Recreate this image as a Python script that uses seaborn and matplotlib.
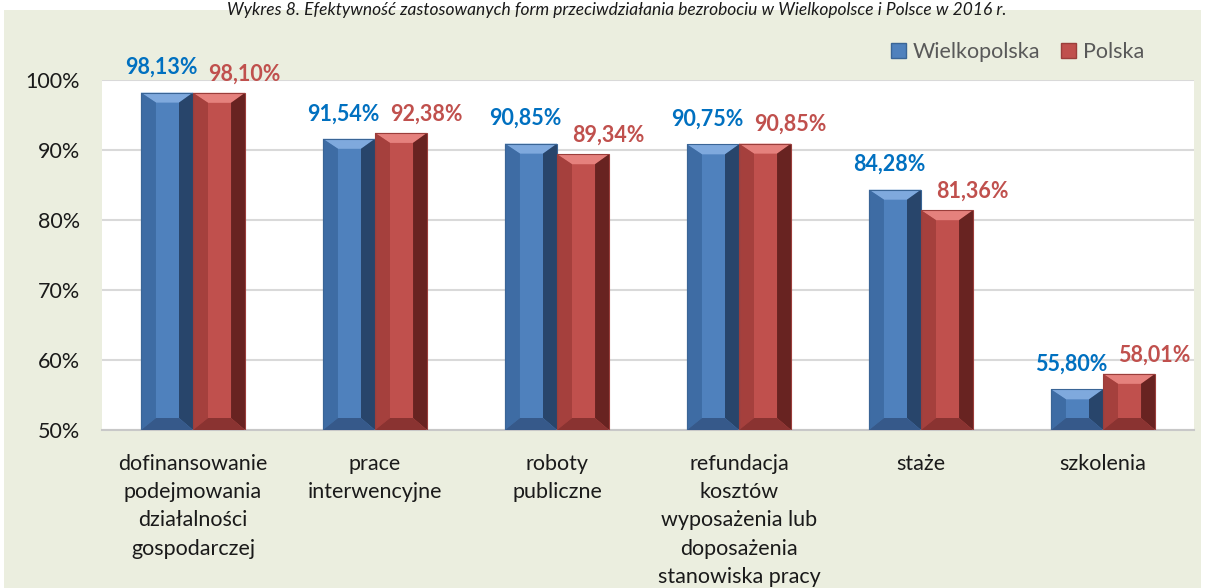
import matplotlib
matplotlib.use("Agg")
import matplotlib.pyplot as plt
from matplotlib.patches import Polygon, Rectangle, Patch
import seaborn as sns
import pandas as pd

# ---- data ----
categories = [
    "dofinansowanie\npodejmowania\ndziałalności\ngospodarczej",
    "prace\ninterwencyjne",
    "roboty\npubliczne",
    "refundacja\nkosztów\nwyposażenia lub\ndoposażenia\nstanowiska pracy",
    "staże",
    "szkolenia",
]
series_names = ["Wielkopolska", "Polska"]
wielkopolska = [98.13, 91.54, 90.85, 90.75, 84.28, 55.80]
polska = [98.10, 92.38, 89.34, 90.85, 81.36, 58.01]
y_ticks = [50, 60, 70, 80, 90, 100]
title = ("Wykres 8. Efektywność zastosowanych form przeciwdziałania bezrobociu "
         "w Wielkopolsce i Polsce w 2016 r.")

df = pd.DataFrame({
    "kategoria": categories * 2,
    "seria": [series_names[0]] * len(categories) + [series_names[1]] * len(categories),
    "wartosc": wielkopolska + polska,
})

# ---- style ----
sns.set_theme(style="white")
plt.rcParams["font.family"] = ["Lato", "DejaVu Sans"]

BLUE = "#4F81BD"
RED = "#C0504D"
LABEL_BLUE = "#0070C0"
LABEL_RED = "#C0504D"
BEIGE = "#EBEEDF"

bevel_cols = {
    BLUE: dict(top="#7FA9DD", left="#3E6CA4", right="#28456B", bottom="#36598A", edge="#3A6596"),
    RED: dict(top="#E5817D", left="#A5403D", right="#682321", bottom="#8A3331", edge="#9B3E3B"),
}

W, H = 1205, 588
fig = plt.figure(figsize=(W / 100, H / 100), dpi=100, facecolor="white")
fig.patches.append(Rectangle((4 / W, 0), (1197 / W), 1 - 10 / H, transform=fig.transFigure,
                             facecolor=BEIGE, edgecolor="none", zorder=-10))
ax = fig.add_axes([102 / W, 1 - 430 / H, (1194 - 102) / W, (430 - 79.5) / H])
ax.set_facecolor("white")

sns.barplot(data=df, x="kategoria", y="wartosc", hue="seria", palette=[BLUE, RED],
            width=0.572, gap=0, saturation=1, legend=False, ax=ax, zorder=2,
            edgecolor="none")

ax.set_ylim(50, 100)
ax.set_xlim(-0.5, len(categories) - 0.5)
ax.set_yticks(y_ticks)
ax.set_yticklabels([f"{t}%" for t in y_ticks])
ax.set_xlabel("")
ax.set_ylabel("")
ax.yaxis.grid(True, color="#D9D9D9", lw=1.5)
ax.set_axisbelow(True)
for s in ["top", "right", "left"]:
    ax.spines[s].set_visible(False)
ax.spines["bottom"].set_color("#C8C8C8")
ax.spines["bottom"].set_linewidth(1.5)
ax.tick_params(axis="y", length=0, pad=16, labelsize=15.5, labelcolor="#1a1a1a")
ax.tick_params(axis="x", length=0, pad=17, labelsize=15.5, labelcolor="#1a1a1a")
for lbl in ax.get_xticklabels():
    lbl.set_linespacing(1.52)

# ---- bevel decoration derived from the bar patches ----
fig.canvas.draw()
bbox = ax.get_window_extent()
sx = bbox.width / (ax.get_xlim()[1] - ax.get_xlim()[0])
sy = bbox.height / (ax.get_ylim()[1] - ax.get_ylim()[0])
bl, br, bt, bb = 15 / sx, 14 / sx, 10 / sy, 12 / sy
ybot_lim = ax.get_ylim()[0]

for container, color, lcol, dx, dy in zip(ax.containers, [BLUE, RED],
                                          [LABEL_BLUE, LABEL_RED], [-6, 25], [25, 19]):
    cols = bevel_cols[color]
    for bar in container:
        x0 = bar.get_x()
        w = bar.get_width()
        top = bar.get_y() + bar.get_height()
        bot = max(bar.get_y(), ybot_lim)
        x1 = x0 + w
        xi0, xi1 = x0 + bl, x1 - br
        yi0, yi1 = bot + bb, top - bt
        polys = [
            ([(x0, top), (x1, top), (xi1, yi1), (xi0, yi1)], cols["top"]),
            ([(x0, bot), (x0, top), (xi0, yi1), (xi0, yi0)], cols["left"]),
            ([(x1, bot), (x1, top), (xi1, yi1), (xi1, yi0)], cols["right"]),
            ([(x0, bot), (x1, bot), (xi1, yi0), (xi0, yi0)], cols["bottom"]),
        ]
        for pts, c in polys:
            ax.add_patch(Polygon(pts, closed=True, facecolor=c, edgecolor="none", zorder=3))
        ax.add_patch(Rectangle((x0, bot), w, top - bot, facecolor="none",
                               edgecolor=cols["edge"], lw=0.8, zorder=4))
        val = bar.get_height()
        ax.annotate(f"{val:.2f}".replace(".", ",") + "%", (x0 + w / 2, top),
                    xytext=(dx, dy), textcoords="offset pixels", ha="center", va="center",
                    fontsize=15.5, fontweight="bold", color=lcol, annotation_clip=False,
                    zorder=5)

# ---- legend ----
handles = [Patch(facecolor=BLUE, edgecolor="#3A6596", label=series_names[0]),
           Patch(facecolor=RED, edgecolor="#9B3E3B", label=series_names[1])]
leg = fig.legend(handles=handles, loc="center right", bbox_to_anchor=(1144 / W, 1 - 52 / H),
                 ncol=2, frameon=False, fontsize=15.5, handlelength=0.7, handleheight=0.7,
                 handletextpad=0.3, columnspacing=1.0, borderaxespad=0, borderpad=0)
for t in leg.get_texts():
    t.set_color("#595959")

# ---- title ----
fig.text(617 / W, 1 - 2 / H, title, ha="center", va="top", fontsize=12.5,
         fontstyle="italic", color="#1a1a1a")

fig.savefig("out.png", dpi=100, facecolor="white")
